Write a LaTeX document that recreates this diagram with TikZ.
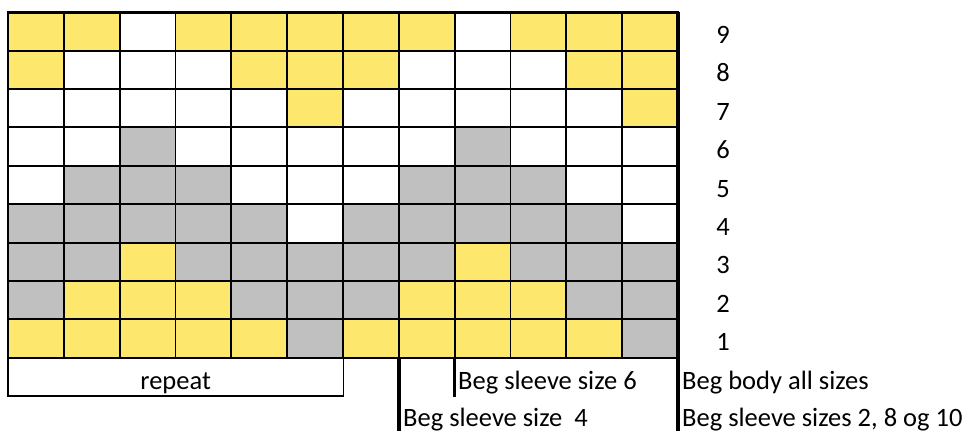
\documentclass[tikz,border=0pt]{standalone}
\usepackage{fontspec}
\setmainfont{Carlito}
\definecolor{cy}{RGB}{253,231,108}
\definecolor{cg}{RGB}{192,192,192}
\begin{document}
\begin{tikzpicture}[x=1pt,y=-1pt,
  cell/.style={minimum width=55.83pt,minimum height=38.38pt,inner sep=0pt,outer sep=0pt,anchor=north west},
  gridline/.style={draw=black,line width=1.9pt},
  lbl/.style={inner sep=0pt,anchor=base west,font=\fontsize{26.5}{30}\selectfont},
  num/.style={inner sep=0pt,anchor=base,font=\fontsize{26.5}{30}\selectfont},
  marker/.style={line width=3.4pt}]
\useasboundingbox (0,0) rectangle (964,431);
\clip (0,0) rectangle (964,431);
\foreach \row [count=\i from 0] in {
  {cy,cy,white,cy,cy,cy,cy,cy,white,cy,cy,cy},
  {cy,white,white,white,cy,cy,cy,white,white,white,cy,cy},
  {white,white,white,white,white,cy,white,white,white,white,white,cy},
  {white,white,cg,white,white,white,white,white,cg,white,white,white},
  {white,cg,cg,cg,white,white,white,cg,cg,cg,white,white},
  {cg,cg,cg,cg,cg,white,cg,cg,cg,cg,cg,white},
  {cg,cg,cy,cg,cg,cg,cg,cg,cy,cg,cg,cg},
  {cg,cy,cy,cy,cg,cg,cg,cy,cy,cy,cg,cg},
  {cy,cy,cy,cy,cy,cg,cy,cy,cy,cy,cy,cg}} {
  \foreach \c [count=\j from 0] in \row {
    \node[cell,fill=\c] (c\i-\j) at ({8+\j*55.83},{12.3+\i*38.38}) {};
  }
}
% grid lines
\foreach \i in {0,...,8} {
  \foreach \j in {0,...,11} {
    \draw[gridline] (c\i-\j.north west) rectangle (c\i-\j.south east);
  }
}
% outer border
\draw[line width=2.4pt] (c8-0.south west) -- (c0-0.north west) -- (c0-11.north east);
\draw[line width=2.2pt] (c8-0.south west) -- (c8-11.south east);
% row numbers
\foreach \i [evaluate=\i as \n using int(9-\i)] in {0,...,8} {
  \node[num] (n\i) at ({723},{12.3+\i*38.38+19.19+12}) {\n};
}
% repeat box
\node[draw=black,line width=1.3pt,minimum width=335.3pt,minimum height=38.4pt,inner sep=0pt,outer sep=0pt,anchor=north west] (rep) at (c8-0.south west) {};
\node[num] (reptext) at ([yshift=-31.6pt]c8-0.south west -| rep.center) {repeat};
\draw[line width=2.4pt] (rep.south west) -- (rep.south east);
% markers
\coordinate (m4end) at ([yshift=-80pt]c8-7.south west);
\coordinate (m6end) at ([yshift=-39pt]c8-8.south west);
\coordinate (mbend) at ([yshift=-80pt]c8-11.south east);
\draw[marker] (c0-11.north east) -- (c8-11.south east) -- (mbend);
\draw[marker] (c8-7.south west) -- (m4end);
\draw[marker] (c8-8.south west) -- (m6end);
% labels
\node[lbl] (t6) at (458,389) {Beg sleeve size 6};
\node[lbl] (tb) at (682,389) {Beg body all sizes};
\node[lbl] (t4) at (403,426) {Beg sleeve size\ \ 4};
\node[lbl] (t2) at (682,426) {Beg sleeve sizes 2, 8 og 10};
\end{tikzpicture}
\end{document}
